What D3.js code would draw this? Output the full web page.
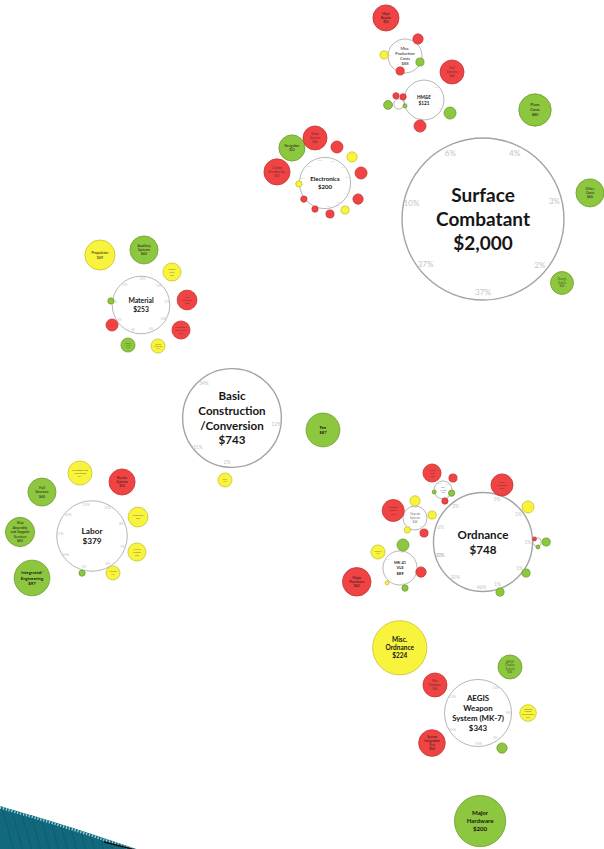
<!DOCTYPE html>
<html>
<head>
<meta charset="utf-8">
<script src="https://cdn.jsdelivr.net/npm/d3@7"></script>
<style>
  html, body { margin: 0; padding: 0; background: #fff; }
  svg { display: block; }
</style>
</head>
<body>
<div id="viz"></div>
<script>
// ---- data ----
// white "total" circles: id, label, value ($M), parent
const totalIds     = ["sc", "bcc", "ord", "ele", "hme", "misc", "mat", "lab", "aegis", "ordA", "ordB", "vls", "ordC", "hmeA"];
const totalNames   = ["Surface|Combatant", "Basic|Construction|/Conversion", "Ordnance", "Electronics", "HM&E",
                      "Misc.|Production|Costs", "Material", "Labor", "AEGIS|Weapon|System (MK-7)",
                      "Gun|Mount", "Torpedo|Systems", "MK 41|VLS", "Decoys", "Aux."];
const totalValues  = [2000, 743, 748, 200, 121, 88, 253, 379, 343, 25, 44, 89, 5, 8];
const totalParents = [null, "sc", "sc", "sc", "sc", null, "bcc", "bcc", "ord", "ord", "ord", "ord", "ord", "hme"];

// coloured cost elements per parent: [label, value, status g/y/r]
const scItems    = [["Plans|Costs", 80, "g"], ["Other|Costs", 60, "g"], ["Change|Orders", 40, "g"]];
const eleItems   = [["Combat|Direction Sys.", 52, "r"], ["Navigation", 52, "g"], ["Radar|Systems", 44, "r"],
                    ["IFF", 11, "r"], ["EW", 8, "y"], ["Sonar", 11, "r"], ["C4I", 8, "r"], ["Antennas", 5, "y"],
                    ["Displays", 5, "r"], ["Cabling", 3, "r"], ["Software", 3, "r"], ["Other", 3, "y"]];
const hmeItems   = [["Fuel|Systems", 44, "r"], ["Steering", 11, "g"], ["Hull|Valves", 11, "r"]];
const hmeAItems  = [["Pumps", 6, "g"], ["Seals", 3, "r"], ["Pipes", 3, "r"], ["Misc", 1.2, "g"]];
const miscItems  = [["Major|Repairs", 52, "r"], ["Training", 8, "r"], ["Travel", 5, "y"], ["Spares", 5, "g"], ["Tools", 5, "r"]];
const matItems   = [["Propulsion", 69, "y"], ["Auxiliary|Systems", 60, "g"], ["Electric|Plant", 25, "y"],
                    ["Hull|Structure", 30, "r"], ["Command &|Surveillance", 25, "r"], ["Outfit &|Furnishings", 15, "y"],
                    ["Special|Purpose", 15, "g"], ["Armament", 11, "r"], ["Other", 3, "g"]];
const bccItems   = [["Fee", 87, "g"], ["Other", 15, "y"]];
const labItems   = [["Outfitting and|Furnishing", 44, "y"], ["Electric|Systems", 52, "r"], ["Hull|Structure", 60, "g"],
                    ["Propulsion", 30, "y"], ["Ship|Assembly|and Support|Services", 65, "g"], ["Auxiliary|Systems", 25, "y"],
                    ["Armament", 15, "y"], ["Other", 3, "g"], ["Integrated/|Engineering", 97, "g"]];
const ordItems   = [["Gun|Systems", 37, "r"], ["Decoy|Launcher", 11, "y"], ["Misc.|Ordnance", 224, "y"],
                    ["Major|Purchases", 62, "r"], ["Spares", 5, "g"], ["Other", 5, "g"]];
const ordAItems  = [["Mount|Parts", 25, "r"], ["Ammo", 5, "r"], ["Test", 3, "g"], ["Other", 1.2, "g"], ["Misc", 3, "r"]];
const ordBItems  = [["Torpedo|Tubes", 37, "r"], ["Sonar", 8, "y"], ["Fire|Control", 5, "y"], ["Misc", 3, "y"], ["Spares", 5, "r"]];
const vlsItems   = [["Canisters", 15, "y"], ["Launcher", 11, "g"], ["Modules", 8, "r"], ["Other", 3, "g"], ["Misc", 1.3, "y"]];
const ordCItems  = [["Seals", 1.2, "r"], ["Parts", 5, "g"], ["Misc", 1.2, "g"]];
const aegisItems = [["AEGIS|Display|System", 44, "g"], ["Misc.|Hardware", 44, "r"], ["Computer|Program|Development", 21, "y"],
                    ["System|Integration|Test", 54, "r"], ["Spares", 8, "g"], ["Major|Hardware", 200, "g"]];

// ---- layout (kept apart from the values) ----
// fixed centres in slide units
const fixedAt = { sc: [483, 219], bcc: [232, 418], ord: [483, 542], ele: [325, 183], hme: [424, 100], misc: [405, 56],
                  mat: [141, 305], lab: [92, 536], aegis: [478, 713], ordA: [443, 490], ordB: [415, 518], vls: [400, 568] };
// [angle in degrees, gap to parent edge]
const totalOrbit = { ordC: [0, 0.5], hmeA: [171, 0.3] };
const scOrbit    = [[-64.5, 23.6], [-13.7, 15.1], [39, 9.2]];
const eleOrbit   = [[-167, 10.6], [-133.3, 9.5], [-102.5, 8.5], [-71.6, 6.3], [-43.9, 6.8], [-15.5, 5.8], [25.9, 6],
                    [53.5, 4], [80.8, 1.7], [111, -0.8], [142.7, -2.2], [178, -2.6]];
const hmeOrbit   = [[-45, 7.7], [26.6, 3.2], [98.7, 0.4]];
const hmeAOrbit  = [[175, 1.4], [-110, 0.4], [-60, 0], [18, -0.8]];
const miscOrbit  = [[-116.6, 12.5], [-52.6, -0.7], [-177, -0.1], [22, -4.9], [108, -5.3]];
const matOrbit   = [[-129.4, 20.8], [-86.9, 12.3], [-46.8, 7.4], [-6.2, 7.6], [32, 9.3], [67.5, 8.6], [108, 6.3], [145.4, 0.4], [-172.4, -1.6]];
const bccOrbit   = [[7.5, 25.5], [96.4, 6]];
const labOrbit   = [[-100.8, 16.8], [-60.9, 13.5], [-138.7, 17.3], [-22.4, 4.6], [-176.8, 22.2], [19.6, 3.4], [60.4, 0.2], [105, 0], [145, 20.1]];
const ordOrbit   = [[-71.6, -0.4], [-37.9, 1.5], [128.2, 58], [162.5, 68.6], [35.8, -0.5], [71.2, -0.7]];
const ordAOrbit  = [[-122.9, 2.1], [-50.2, 2.5], [20, -3], [167, -2], [80, -1]];
const ordBOrbit  = [[-161, 0], [-90, 0], [-10, 1.3], [122.7, -1], [59, 1.5]];
const vlsOrbit   = [[-144, 3.1], [-82.6, 0.1], [10.8, -0.8], [76, 0.5], [131, 0.5]];
const ordCOrbit  = [[-130, -2], [0, 1], [80, -1]];
const aegisOrbit = [[-55.2, 10.5], [-146.9, 5.8], [0, 8.2], [146.9, 8.1], [55.6, 3.8], [88.9, 48.9]];

const clusters = [["sc", scItems, scOrbit], ["ele", eleItems, eleOrbit], ["hme", hmeItems, hmeOrbit],
                  ["hmeA", hmeAItems, hmeAOrbit], ["misc", miscItems, miscOrbit], ["mat", matItems, matOrbit],
                  ["bcc", bccItems, bccOrbit], ["lab", labItems, labOrbit], ["ord", ordItems, ordOrbit],
                  ["ordA", ordAItems, ordAOrbit], ["ordB", ordBItems, ordBOrbit], ["vls", vlsItems, vlsOrbit],
                  ["ordC", ordCItems, ordCOrbit], ["aegis", aegisItems, aegisOrbit]];

var width = 604, height = 849;

var fills   = { total: "#ffffff", g: "#8dc63f", y: "#f8f43e", r: "#f04444" };
var strokes = { total: "#a3a3a3", g: "#6c9d2c", y: "#c8c22c", r: "#c43535" };

// scales
var x = d3.scaleLinear().domain([0, 604]).range([0, width]);
var y = d3.scaleLinear().domain([0, 849]).range([0, height]);
var r = d3.scaleSqrt().domain([0, 2000]).range([0, 81]);
var money = d3.format("$,.0f");
var pct = d3.format(".0%");

// build nodes
var nodes = [], byId = {};
totalIds.forEach(function(id, i) {
  var n = { id: id, name: totalNames[i], value: totalValues[i], parent: totalParents[i], status: "total", orbit: totalOrbit[id] };
  nodes.push(n); byId[id] = n;
});
clusters.forEach(function(c) {
  c[1].forEach(function(it, i) {
    nodes.push({ id: c[0] + "-" + i, name: it[0], value: it[1], parent: c[0], status: it[2], orbit: c[2][i] });
  });
});

// place every node: fixed ones through x/y, the rest orbit their parent
function place(n) {
  if (n.cx != null) return;
  n.r = r(n.value);
  if (fixedAt[n.id]) {
    n.cx = x(fixedAt[n.id][0]); n.cy = y(fixedAt[n.id][1]);
    return;
  }
  var p = byId[n.parent];
  place(p);
  var dist = p.r + n.r + n.orbit[1];
  var pt = d3.pointRadial((n.orbit[0] + 90) * Math.PI / 180, dist);
  n.cx = p.cx + pt[0]; n.cy = p.cy + pt[1];
}
nodes.forEach(place);

var svg = d3.select("#viz")
  .append("svg")
  .attr("width", width)
  .attr("height", height)
  .style("font-family", "Lato, 'Open Sans', sans-serif");

svg.append("rect").attr("width", width).attr("height", height).attr("fill", "#fff");

// decorative swoosh bottom-left
var edge = d3.line().curve(d3.curveBasis)([[0, 806], [45, 819], [95, 835], [142, 851]]);
svg.append("clipPath").attr("id", "swClip")
  .append("path").attr("d", edge + "L0,851Z");
svg.append("path").attr("d", edge + "L0,851Z").attr("fill", "#136a7e");
svg.append("g").attr("clip-path", "url(#swClip)")
  .selectAll("line")
  .data(d3.range(0, 160, 9))
  .join("line")
  .attr("x1", d => d).attr("y1", 800)
  .attr("x2", d => d + 14).attr("y2", 851)
  .attr("stroke", "#0b5263").attr("stroke-width", 0.8).attr("opacity", 0.7);
svg.append("path").attr("d", edge).attr("fill", "none")
  .attr("stroke", "#9ed2dc").attr("stroke-width", 2.6).attr("stroke-dasharray", "1.3,1.7")
  .attr("transform", "translate(0,1.5)");
svg.append("path")
  .attr("d", d3.line()([[104, 842], [122, 846.5], [140, 851]]))
  .attr("fill", "none").attr("stroke", "#111").attr("stroke-width", 1.3);

// circles: totals first, then coloured elements
var totals = nodes.filter(d => d.status === "total");
var leaves = nodes.filter(d => d.status !== "total");

svg.append("g")
  .selectAll("circle")
  .data(totals)
  .join("circle")
  .attr("cx", d => d.cx).attr("cy", d => d.cy).attr("r", d => d.r)
  .attr("fill", "#fff")
  .attr("stroke", strokes.total)
  .attr("stroke-width", d => d.r > 40 ? 1.4 : 0.8);

// percentage of parent shown inside each total circle, toward the child
var pctLabels = [];
nodes.forEach(function(n) {
  var p = byId[n.parent];
  if (!p || p.r < 8) return;
  var fs = Math.max(1.8, p.r * 0.1);
  var a = Math.atan2(n.cy - p.cy, n.cx - p.cx);
  var d = p.r - fs * 0.95;
  pctLabels.push({ x: p.cx + d * Math.cos(a), y: p.cy + d * Math.sin(a), fs: fs, t: pct(n.value / p.value) });
});
svg.append("g")
  .selectAll("text")
  .data(pctLabels)
  .join("text")
  .attr("x", d => d.x).attr("y", d => d.y + d.fs * 0.35)
  .attr("text-anchor", "middle")
  .attr("font-size", d => d.fs)
  .attr("fill", "#c4c4c4")
  .text(d => d.t);

svg.append("g")
  .selectAll("circle")
  .data(leaves)
  .join("circle")
  .attr("cx", d => d.cx).attr("cy", d => d.cy).attr("r", d => d.r)
  .attr("fill", d => fills[d.status])
  .attr("stroke", d => strokes[d.status])
  .attr("stroke-width", 0.8);

// labels
nodes.forEach(function(n) {
  var lines = n.name.split("|").concat([money(n.value)]);
  var isTotal = n.status === "total";
  var fs = n.r * (isTotal ? 0.235 : 0.24);
  var longest = d3.max(lines, l => l.length);
  var maxW = n.r * (isTotal ? 1.75 : 1.6);
  if (longest * 0.52 * fs > maxW) fs = maxW / (longest * 0.52);
  var lh = fs * 1.27;
  if (lines.length * lh > n.r * 1.6) { lh = n.r * 1.6 / lines.length; fs = Math.min(fs, lh / 1.15); }
  if (fs < 1.6) return;
  var y0 = n.cy - (lines.length - 1) / 2 * lh + fs * 0.36;
  svg.append("text")
    .attr("text-anchor", "middle")
    .attr("font-size", fs)
    .attr("font-weight", fs > 4 ? "bold" : "normal")
    .attr("fill", "#161616")
    .attr("fill-opacity", fs < 3 ? 0.7 : 1)
    .selectAll("tspan")
    .data(lines)
    .join("tspan")
    .attr("x", n.cx)
    .attr("y", (l, i) => y0 + i * lh)
    .text(l => l);
});
</script>
